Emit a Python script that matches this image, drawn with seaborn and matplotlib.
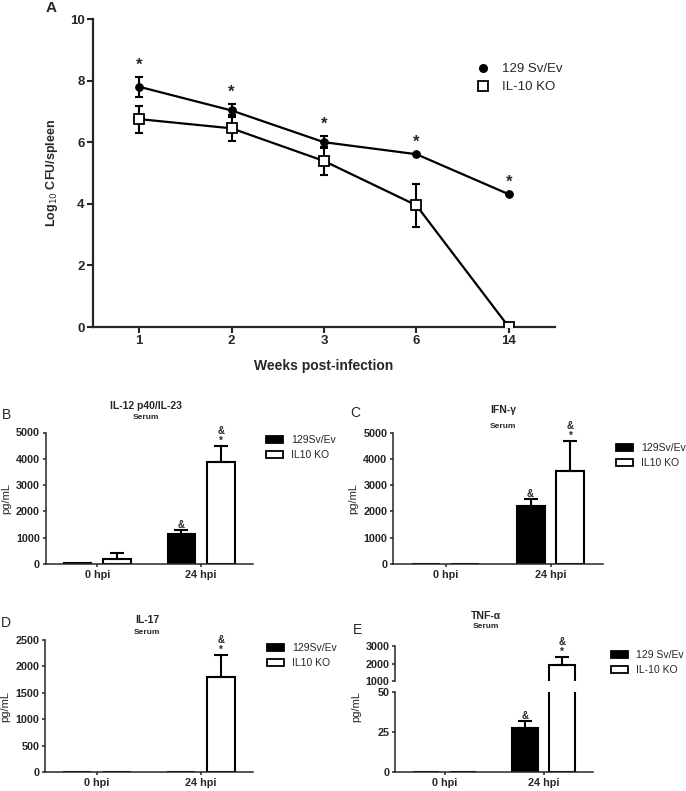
import matplotlib
matplotlib.use("Agg")
import matplotlib.pyplot as plt
from matplotlib.lines import Line2D
from matplotlib.patches import Patch
import numpy as np
import pandas as pd
import seaborn as sns

W, H = 686, 791

# panel A data
weeks = ["1", "2", "3", "6", "14"]
sv_cfu = [7.8, 7.03, 6.0, 5.61, 4.31]
sv_sem = [0.33, 0.22, 0.2, 0.0, 0.0]
ko_cfu = [6.75, 6.45, 5.39, 3.95, 0.0]
ko_sem = [0.44, 0.42, 0.45, 0.7, 0.0]

# cytokine panels data
times = ["0 hpi", "24 hpi"]
il12_sv = [30, 1130]
il12_sv_err = [0, 160]
il12_ko = [190, 3880]
il12_ko_err = [240, 595]
ifng_sv = [0, 2200]
ifng_sv_err = [0, 270]
ifng_ko = [0, 3550]
ifng_ko_err = [0, 1130]
il17_sv = [0, 0]
il17_sv_err = [0, 0]
il17_ko = [0, 1800]
il17_ko_err = [0, 410]
tnf_sv = [0, 27.5]
tnf_sv_err = [0, 4.5]
tnf_ko = [0, 1900]
tnf_ko_err = [0, 460]

sns.set_theme(style="ticks")
plt.rcParams["font.family"] = ["Liberation Sans", "DejaVu Sans"]
plt.rcParams["axes.linewidth"] = 1.1

fig = plt.figure(figsize=(W / 100, H / 100), dpi=100)


def px_axes(left, top, right, bottom):
    return fig.add_axes([left / W, 1 - bottom / H, (right - left) / W, (bottom - top) / H])


def fig_text(x, y, s, **kw):
    fig.text(x / W, 1 - y / H, s, ha="center", va="center", **kw)


# ---------- panel A ----------
axA = px_axes(93, 19, 555, 327)
dfA = pd.DataFrame({"pos": np.arange(len(weeks)), "sv": sv_cfu, "ko": ko_cfu})
axA.errorbar(dfA["pos"], sv_cfu, yerr=sv_sem, fmt="none", ecolor="black",
             elinewidth=1.5, capsize=3, capthick=1.5, zorder=2)
axA.errorbar(dfA["pos"], ko_cfu, yerr=ko_sem, fmt="none", ecolor="black",
             elinewidth=1.5, capsize=3, capthick=1.5, zorder=2)
sns.lineplot(data=dfA, x="pos", y="sv", ax=axA, color="black", lw=1.6,
             marker="o", markersize=5.5, markerfacecolor="black",
             markeredgecolor="black", zorder=3)
sns.lineplot(data=dfA, x="pos", y="ko", ax=axA, color="black", lw=1.6,
             marker="s", markersize=6.5, markerfacecolor="white",
             markeredgecolor="black", markeredgewidth=1.3, zorder=4)
for x, y, e in zip(dfA["pos"], sv_cfu, sv_sem):
    axA.annotate("*", (x, y + e), xytext=(0, 3), textcoords="offset points",
                 ha="center", va="bottom", fontsize=12, fontweight="bold")
axA.set_xlim(-0.5, 4.5)
axA.set_ylim(0, 10)
axA.set_yticks([0, 2, 4, 6, 8, 10])
axA.set_xticks(dfA["pos"])
axA.set_xticklabels(weeks)
for lab in axA.get_xticklabels() + axA.get_yticklabels():
    lab.set_fontweight("bold")
    lab.set_fontsize(9.5)
axA.tick_params(width=1.5, length=4, pad=2)
for s in ["left", "bottom"]:
    axA.spines[s].set_linewidth(1.6)
sns.despine(ax=axA)
axA.set_xlabel("Weeks post-infection", fontsize=10, fontweight="bold")
axA.xaxis.set_label_coords(0.5, -0.105)
axA.set_ylabel("Log$_{10}$ CFU/spleen", fontsize=9, fontweight="bold")
axA.yaxis.set_label_coords(-0.071, 0.5)
handlesA = [
    Line2D([], [], ls="none", marker="o", color="black", markersize=5.5),
    Line2D([], [], ls="none", marker="s", markerfacecolor="white",
           markeredgecolor="black", markeredgewidth=1.3, markersize=6.5),
]
axA.legend(handlesA, ["129 Sv/Ev", "IL-10 KO"], loc="upper left",
           bbox_to_anchor=(476 / W, 1 - 63 / H), bbox_transform=fig.transFigure,
           frameon=False, fontsize=9.5, handlelength=1.0, handletextpad=1.0,
           labelspacing=0.45, borderpad=0, borderaxespad=0)
fig_text(51, 8, "A", fontsize=11, fontweight="bold")


# ---------- bar panels ----------
def bar_panel(ax, sv, sv_err, ko, ko_err, labels, marks):
    df = pd.DataFrame({
        "time": times * 2,
        "strain": [labels[0]] * 2 + [labels[1]] * 2,
        "value": sv + ko,
    })
    sns.barplot(data=df, x="time", y="value", hue="strain", order=times,
                hue_order=labels, palette={labels[0]: "black", labels[1]: "white"},
                edgecolor="black", linewidth=1.5, width=0.76, gap=0.3,
                errorbar=None, legend=False, ax=ax)
    xs = [p.get_x() + p.get_width() / 2 for p in ax.patches[:4]]
    vals = sv + ko
    errs = sv_err + ko_err
    for x, v, e in zip(xs, vals, errs):
        if e > 0:
            ax.errorbar([x], [v], yerr=[[0], [e]], fmt="none", ecolor="black",
                        elinewidth=1.5, capsize=5, capthick=1.5)
    for i, m in marks.items():
        top = vals[i] + errs[i]
        for k, ch in enumerate(m):
            ax.annotate(ch, (xs[i], top), xytext=(0, 4 + 7 * k),
                        textcoords="offset points", ha="center", va="center",
                        fontsize=7, fontweight="bold", annotation_clip=False)
    ax.set_xlim(-0.5, 1.5)
    ax.set_xlabel("")
    ax.set_ylabel("")
    ax.tick_params(width=1.1, length=2.5, pad=1.5)
    for lab in ax.get_xticklabels() + ax.get_yticklabels():
        lab.set_fontweight("bold")
        lab.set_fontsize(7.8)
    sns.despine(ax=ax)
    return xs


def bar_legend(ax, labels, left, top):
    handles = [Patch(facecolor="black", edgecolor="black", lw=1.3),
               Patch(facecolor="white", edgecolor="black", lw=1.3)]
    ax.legend(handles, labels, loc="upper left",
              bbox_to_anchor=(left / W, 1 - top / H), bbox_transform=fig.transFigure,
              frameon=False, fontsize=7.5, handlelength=1.6, handleheight=0.75,
              handletextpad=0.8, labelspacing=0.5, borderpad=0, borderaxespad=0)


def style_yticks(ax):
    for lab in ax.get_yticklabels():
        lab.set_fontweight("bold")
        lab.set_fontsize(7.8)


def ylab(ax, xpos, ypos=0.5):
    ax.set_ylabel("pg/mL", fontsize=8)
    ax.yaxis.set_label_coords(xpos, ypos)


# B
axB = px_axes(45.5, 432.5, 253, 564)
bar_panel(axB, il12_sv, il12_sv_err, il12_ko, il12_ko_err,
          ["129Sv/Ev", "IL10 KO"], {1: "&", 3: "*&"})
axB.set_ylim(0, 5000)
axB.set_yticks([0, 1000, 2000, 3000, 4000, 5000])
style_yticks(axB)
ylab(axB, -0.165)
bar_legend(axB, ["129Sv/Ev", "IL10 KO"], 266, 435)
fig_text(146, 406, "IL-12 p40/IL-23", fontsize=7.5, fontweight="bold")
fig_text(146, 418, "Serum", fontsize=6, fontweight="bold")
fig_text(7, 415, "B", fontsize=10)

# C
axC = px_axes(393, 432.7, 603, 564)
bar_panel(axC, ifng_sv, ifng_sv_err, ifng_ko, ifng_ko_err,
          ["129Sv/Ev", "IL10 KO"], {1: "&", 3: "*&"})
axC.set_ylim(0, 5000)
axC.set_yticks([0, 1000, 2000, 3000, 4000, 5000])
style_yticks(axC)
ylab(axC, -0.165)
bar_legend(axC, ["129Sv/Ev", "IL10 KO"], 616, 443)
fig_text(503, 410, "IFN-γ", fontsize=7.5, fontweight="bold")
fig_text(503, 426, "Serum", fontsize=6, fontweight="bold")
fig_text(355, 413, "C", fontsize=10)

# D
axD = px_axes(45, 640, 253, 772.3)
bar_panel(axD, il17_sv, il17_sv_err, il17_ko, il17_ko_err,
          ["129Sv/Ev", "IL10 KO"], {3: "*&"})
axD.set_ylim(0, 2500)
axD.set_yticks([0, 500, 1000, 1500, 2000, 2500])
style_yticks(axD)
ylab(axD, -0.165)
bar_legend(axD, ["129Sv/Ev", "IL10 KO"], 267, 643)
fig_text(147, 620, "IL-17", fontsize=7.5, fontweight="bold")
fig_text(147, 633, "Serum", fontsize=6, fontweight="bold")
fig_text(6, 623, "D", fontsize=10)

# E (broken axis)
axE = px_axes(395, 692.3, 593, 772.3)
axE2 = px_axes(395, 646, 593, 681)
bar_panel(axE, tnf_sv, tnf_sv_err, tnf_ko, tnf_ko_err,
          ["129 Sv/Ev", "IL-10 KO"], {1: "&"})
bar_panel(axE2, tnf_sv, tnf_sv_err, tnf_ko, tnf_ko_err,
          ["129 Sv/Ev", "IL-10 KO"], {3: "*&"})
axE.set_ylim(0, 50)
axE.set_yticks([0, 25, 50])
axE2.set_ylim(1000, 3000)
axE2.set_yticks([1000, 2000, 3000])
style_yticks(axE)
style_yticks(axE2)
axE2.spines["bottom"].set_visible(False)
axE2.set_xticks([])
axE2.tick_params(axis="x", length=0)
ylab(axE, -0.17, 0.82)
bar_legend(axE, ["129 Sv/Ev", "IL-10 KO"], 611, 650)
fig_text(486, 616, "TNF-α", fontsize=7.5, fontweight="bold")
fig_text(486, 627, "Serum", fontsize=6, fontweight="bold")
fig_text(357, 630, "E", fontsize=10)

fig.savefig("out.png", dpi=100)
